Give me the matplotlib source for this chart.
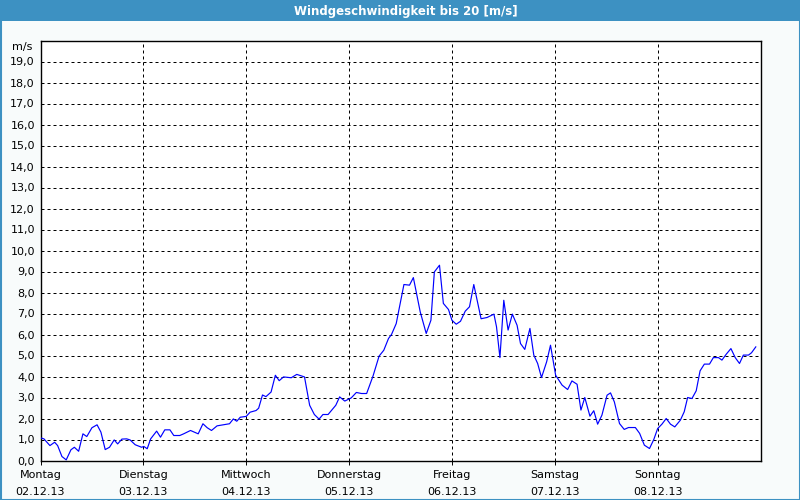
import matplotlib
matplotlib.use("Agg")
import matplotlib.pyplot as plt
from matplotlib.patches import Rectangle

title = "Windgeschwindigkeit bis 20 [m/s]"
unit_label = "m/s"
day_names = ["Montag", "Dienstag", "Mittwoch", "Donnerstag", "Freitag", "Samstag", "Sonntag"]
day_dates = ["02.12.13", "03.12.13", "04.12.13", "05.12.13", "06.12.13", "07.12.13", "08.12.13"]
y_ticks = list(range(0, 20))

# time in hours since Monday 00:00, wind speed in m/s
hours = [0, 0.8, 2.2, 3.3, 4.0, 5.0, 6.0, 7.1, 7.9, 8.9, 9.9, 10.8, 12.0, 13.2, 14.1,
         15.1, 16.1, 17.2, 18.0, 19.0, 20.1, 20.9, 22.1, 23.6, 24.1, 24.9, 25.7, 27.1,
         28.0, 29.0, 30.2, 31.1, 32.5, 33.4, 35.0, 36.8, 37.9, 38.9, 39.9, 41.2, 42.7,
         44.1, 45.0, 45.8, 46.6, 48.0, 48.9, 50.3, 50.9, 51.8, 52.6, 53.8, 54.8, 55.7,
         56.7, 58.5, 59.8, 61.6, 62.8, 63.9, 65.0, 65.9, 67.1, 68.9, 69.8, 71.0, 72.5,
         73.7, 74.9, 76.1, 77.6, 79.0, 80.1, 81.2, 81.9, 83.0, 84.8, 86.1, 87.0, 88.6,
         90.0, 91.1, 91.9, 93.1, 94.0, 95.2, 96.0, 97.0, 98.0, 99.1, 100.1, 101.1, 102.8,
         104.2, 105.8, 106.4, 107.2, 108.1, 109.1, 110.1, 111.2, 112.0, 113.0, 114.2,
         115.1, 116.0, 116.9, 118.1, 119.0, 120.2, 121.7, 123.0, 124.0, 125.2, 126.1,
         127.0, 128.2, 129.1, 130.0, 131.0, 132.2, 133.0, 133.9, 135.1, 136.2, 137.2,
         138.8, 139.8, 140.9, 142.1, 143.1, 144.0, 145.0, 146.0, 147.0, 148.0, 149.3,
         150.2, 151.0, 152.0, 153.0, 153.9, 154.9, 156.1, 157.0, 158.2, 159.0, 160.0,
         161.1, 162.1, 163.1, 164.0, 165.2, 165.9, 166.9]
speed = [1.08, 1.03, 0.71, 0.87, 0.71, 0.19, 0.03, 0.51, 0.63, 0.44, 1.27, 1.14, 1.56, 1.70, 1.35,
         0.52, 0.63, 0.98, 0.79, 1.02, 1.03, 0.98, 0.75, 0.63, 0.67, 0.56, 1.03, 1.40,
         1.11, 1.46, 1.46, 1.19, 1.19, 1.27, 1.43, 1.27, 1.75, 1.56, 1.43, 1.65, 1.70,
         1.75, 1.98, 1.87, 2.06, 2.10, 2.30, 2.38, 2.49, 3.12, 3.04, 3.26, 4.06, 3.80,
         3.98, 3.94, 4.10, 3.98, 2.63, 2.19, 1.97, 2.19, 2.19, 2.63, 3.03, 2.83, 2.98,
         3.24, 3.19, 3.19, 4.03, 4.97, 5.25, 5.81, 6.00, 6.52, 8.38, 8.35, 8.71, 7.08,
         6.05, 6.68, 8.98, 9.30, 7.48, 7.19, 6.68, 6.49, 6.63, 7.11, 7.32, 8.38, 6.75,
         6.81, 6.97, 6.37, 4.90, 7.63, 6.21, 6.97, 6.44, 5.57, 5.29, 6.29,
         5.02, 4.62, 3.95, 4.70, 5.49, 4.06, 3.59, 3.38, 3.79, 3.63, 2.40,
         3.00, 2.11, 2.37, 1.73, 2.16, 3.11, 3.22, 2.79, 1.76, 1.48, 1.57,
         1.57, 1.29, 0.73, 0.57, 1.00, 1.52, 1.73, 2.00, 1.73, 1.60, 1.92,
         2.32, 3.00, 2.95, 3.32, 4.27, 4.59, 4.59, 4.90, 4.90, 4.78, 5.06,
         5.33, 4.90, 4.62, 5.02, 5.02, 5.13, 5.41]

W, H = 800, 500
fig = plt.figure(figsize=(8, 5), dpi=100, facecolor="#f8fbfb")

blue = "#3d91c2"
# title bar and border
fig.patches.append(Rectangle((0, 1 - 21 / H), 1, 21 / H, transform=fig.transFigure,
                             facecolor=blue, edgecolor="none", zorder=0))
fig.patches.append(Rectangle((0.5 / W, 0.5 / H), 1 - 1 / W, 1 - 1 / H, transform=fig.transFigure,
                             facecolor="none", edgecolor=blue, lw=1.5, zorder=1))
fig.text(406 / W, 1 - 11 / H, title, color="white", fontsize=8.5, fontweight="bold",
         ha="center", va="center", family="DejaVu Sans")

ax = fig.add_axes([40.5 / W, (H - 460.5) / H, 720 / W, 420 / H])
ax.set_facecolor("white")
ax.plot(hours, speed, color="#0000ff", lw=0.85, zorder=3)

ax.set_xlim(0, 168)
ax.set_ylim(0, 20)
ax.set_xticks([24 * i for i in range(len(day_names))])
ax.set_xticklabels([f"{n}\n{d}" for n, d in zip(day_names, day_dates)],
                   fontsize=8, linespacing=1.8)
ax.set_yticks(y_ticks)
ax.set_yticklabels([f"{v},0" for v in y_ticks], fontsize=8)
ax.tick_params(axis="x", length=3, width=0.7, pad=4, colors="black")
ax.tick_params(axis="y", length=0, pad=4, colors="black")

ax.grid(True, color="black", lw=0.72, linestyle=(0, (3, 3)))
for s in ax.spines.values():
    s.set_color("black")
    s.set_linewidth(1.0)

fig.text(12 / W, 1 - 47 / H, unit_label, fontsize=8, ha="left", va="center")

fig.savefig("out.png", dpi=100, facecolor=fig.get_facecolor())
